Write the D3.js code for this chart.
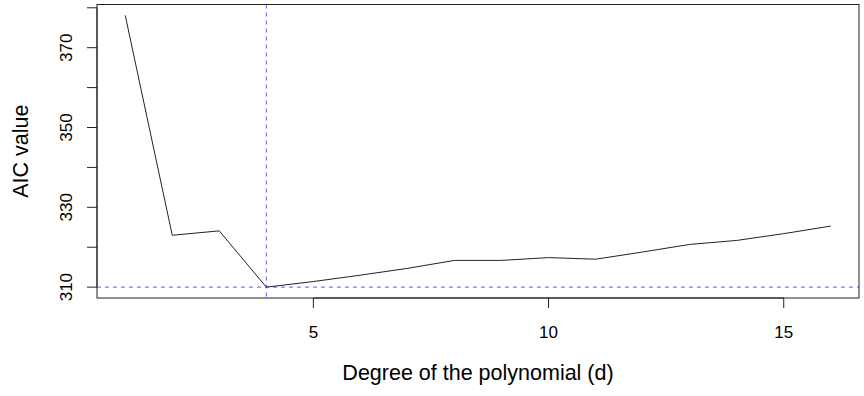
<!DOCTYPE html>
<html>
<head>
<meta charset="utf-8">
<script src="https://cdn.jsdelivr.net/npm/d3@7"></script>
<style>
  body { margin: 0; background: #fff; }
  text { font-family: "Liberation Sans", Arial, sans-serif; fill: #000; }
</style>
</head>
<body>
<div id="chart"></div>
<script>
// AIC by polynomial degree
const degrees = [1, 2, 3, 4, 5, 6, 7, 8, 9, 10, 11, 12, 13, 14, 15, 16];
const aicValues = [378.1, 323.0, 324.1, 310.0, 311.4, 313.0, 314.7, 316.7, 316.7, 317.4, 317.0, 318.8, 320.7, 321.7, 323.4, 325.3];
const xTicks = [5, 10, 15];
const yTicks = [310, 320, 330, 340, 350, 360, 370, 380];
const yLabels = [310, 330, 350, 370];
const bestDegree = 4;

const W = 864, H = 396;
const box = { left: 97, right: 859, top: 4.5, bottom: 298 };

const svg = d3.select("#chart").append("svg").attr("width", W).attr("height", H);

// R-style 4% padding around the data range
const xr = d3.extent(degrees), yr = d3.extent(aicValues);
const xPad = (xr[1] - xr[0]) * 0.04, yPad = (yr[1] - yr[0]) * 0.04;
const x = d3.scaleLinear().domain([xr[0] - xPad, xr[1] + xPad]).range([box.left, box.right]);
const y = d3.scaleLinear().domain([yr[0] - yPad, yr[1] + yPad]).range([box.bottom, box.top]);

// reference lines
const minAic = d3.min(aicValues);
svg.append("line")
    .attr("x1", box.left).attr("x2", box.right)
    .attr("y1", y(minAic)).attr("y2", y(minAic))
    .attr("stroke", "#5a5aff").attr("stroke-width", 1).attr("stroke-dasharray", "4,4");
svg.append("line")
    .attr("x1", x(bestDegree)).attr("x2", x(bestDegree))
    .attr("y1", box.top).attr("y2", box.bottom)
    .attr("stroke", "#5a5aff").attr("stroke-width", 1).attr("stroke-dasharray", "4,4");

// data line
const line = d3.line().x((d, i) => x(degrees[i])).y(d => y(d));
svg.append("path").datum(aicValues)
    .attr("fill", "none").attr("stroke", "#222").attr("stroke-width", 1).attr("d", line);

// box
svg.append("rect")
    .attr("x", box.left).attr("y", box.top)
    .attr("width", box.right - box.left).attr("height", box.bottom - box.top)
    .attr("fill", "none").attr("stroke", "#222").attr("stroke-width", 1);

// x axis
const xAxis = svg.append("g");
xAxis.append("line")
    .attr("x1", x(xTicks[0])).attr("x2", x(xTicks[xTicks.length - 1]))
    .attr("y1", box.bottom).attr("y2", box.bottom).attr("stroke", "#222");
xAxis.selectAll(".xt").data(xTicks).enter().append("line")
    .attr("x1", d => x(d)).attr("x2", d => x(d))
    .attr("y1", box.bottom).attr("y2", box.bottom + 10).attr("stroke", "#222");
xAxis.selectAll(".xl").data(xTicks).enter().append("text")
    .attr("x", d => x(d)).attr("y", 338)
    .attr("text-anchor", "middle").attr("font-size", 17).text(d => d);

// y axis
const yAxis = svg.append("g");
yAxis.append("line")
    .attr("x1", box.left).attr("x2", box.left)
    .attr("y1", y(yTicks[0])).attr("y2", y(yTicks[yTicks.length - 1])).attr("stroke", "#222");
yAxis.selectAll(".yt").data(yTicks).enter().append("line")
    .attr("x1", box.left - 10).attr("x2", box.left)
    .attr("y1", d => y(d)).attr("y2", d => y(d)).attr("stroke", "#222");
yAxis.selectAll(".yl").data(yLabels).enter().append("text")
    .attr("transform", d => `translate(72,${y(d)}) rotate(-90)`)
    .attr("text-anchor", "middle").attr("font-size", 17).text(d => d);

// titles
svg.append("text")
    .attr("x", (box.left + box.right) / 2).attr("y", 380)
    .attr("text-anchor", "middle").attr("font-size", 21.5)
    .text("Degree of the polynomial (d)");
svg.append("text")
    .attr("transform", `translate(28,${(box.top + box.bottom) / 2}) rotate(-90)`)
    .attr("text-anchor", "middle").attr("font-size", 21.5)
    .text("AIC value");
</script>
</body>
</html>
